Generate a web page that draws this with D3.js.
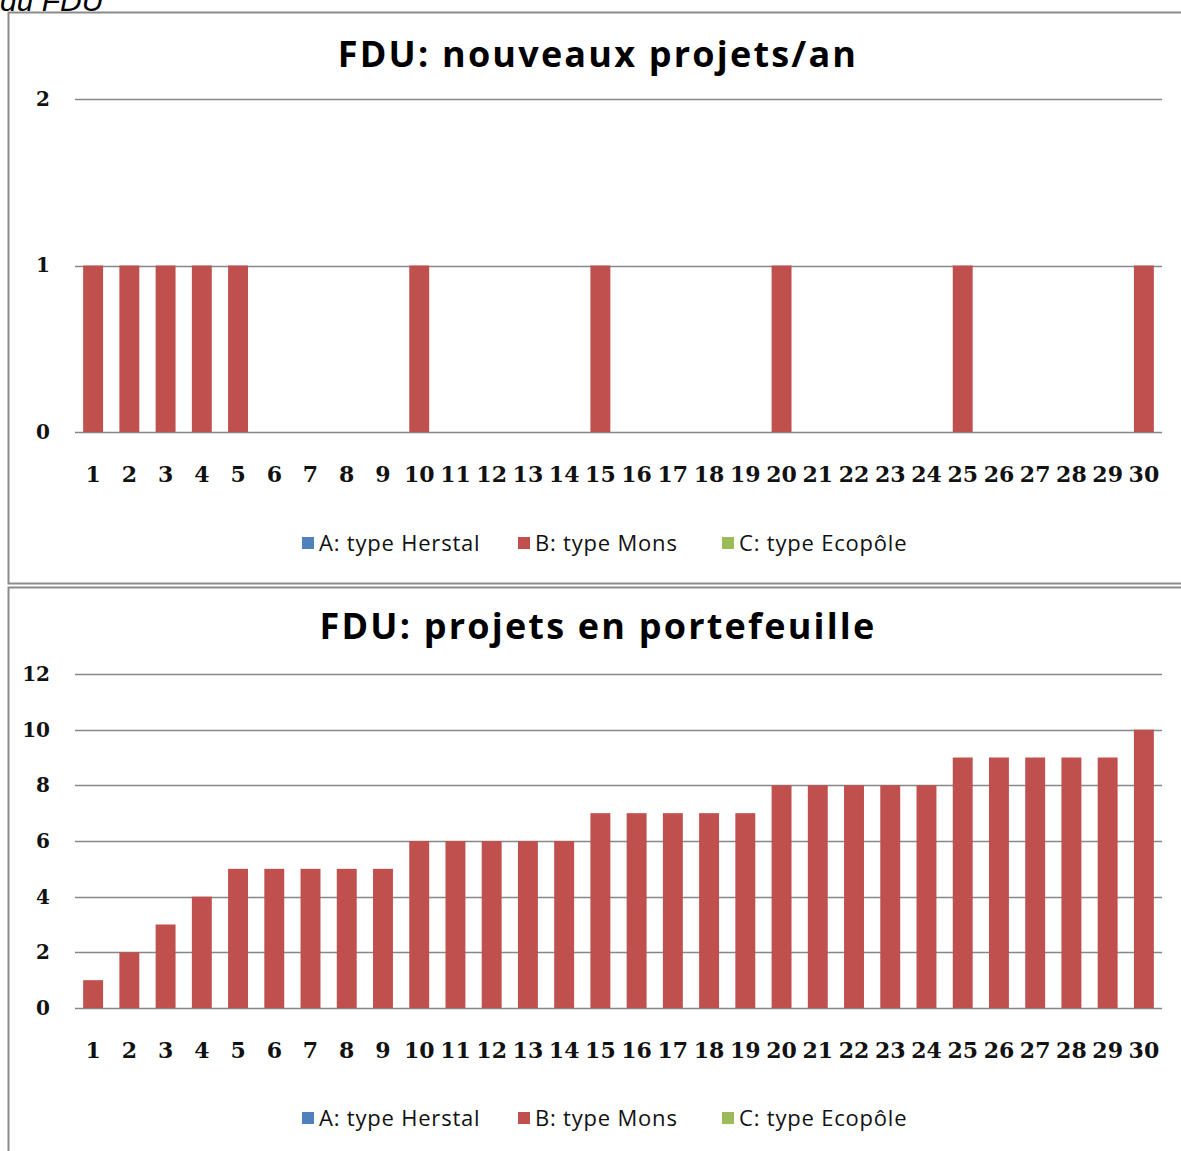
<!DOCTYPE html>
<html>
<head>
<meta charset="utf-8">
<script src="https://d3js.org/d3.v7.min.js"></script>
<style>
body { margin: 0; background: #fff; }
</style>
</head>
<body>
<svg id="canvas" width="1181" height="1151"></svg>
<script>
/********** Data **********/
var years = d3.range(1, 31);
var series = ["A: type Herstal", "B: type Mons", "C: type Ecopôle"];
var colors = ["#4F81BD", "#C0504D", "#9BBB59"];

// chart 1: new projects per year
var newA = [0,0,0,0,0,0,0,0,0,0,0,0,0,0,0,0,0,0,0,0,0,0,0,0,0,0,0,0,0,0];
var newB = [1,1,1,1,1,0,0,0,0,1,0,0,0,0,1,0,0,0,0,1,0,0,0,0,1,0,0,0,0,1];
var newC = [0,0,0,0,0,0,0,0,0,0,0,0,0,0,0,0,0,0,0,0,0,0,0,0,0,0,0,0,0,0];
var newTicks = [0, 1, 2];

// chart 2: projects in portfolio
var portA = [0,0,0,0,0,0,0,0,0,0,0,0,0,0,0,0,0,0,0,0,0,0,0,0,0,0,0,0,0,0];
var portB = [1,2,3,4,5,5,5,5,5,6,6,6,6,6,7,7,7,7,7,8,8,8,8,8,9,9,9,9,9,10];
var portC = [0,0,0,0,0,0,0,0,0,0,0,0,0,0,0,0,0,0,0,0,0,0,0,0,0,0,0,0,0,0];
var portTicks = [0, 2, 4, 6, 8, 10, 12];

/********** Setup **********/
var svg = d3.select("#canvas");

// caption of the page, cut off at the top as in the source
svg.append("text")
    .attr("x", 0)
    .attr("y", 11)
    .attr("font-family", "Liberation Sans, Arial, sans-serif")
    .attr("font-style", "italic")
    .attr("font-size", 30)
    .attr("fill", "#000")
    .text("du FDU");

function drawChart(box, title, values, ticks)
{
    var g = svg.append("g");

    g.append("rect")
        .attr("x", box.x + 0.5)
        .attr("y", box.y + 0.5)
        .attr("width", box.w)
        .attr("height", box.h)
        .attr("fill", "#fff")
        .attr("stroke", "#8c8c8c")
        .attr("stroke-width", 2);

    g.append("text")
        .attr("x", 598)
        .attr("y", box.y + box.titleY)
        .attr("text-anchor", "middle")
        .attr("font-family", "Open Sans, sans-serif")
        .attr("font-weight", "bold")
        .attr("font-size", 36)
        .attr("letter-spacing", 2.2)
        .attr("fill", "#000")
        .text(title);

    var x = d3.scaleBand()
        .domain(years)
        .range([75, 1162])
        .paddingInner(0.45)
        .paddingOuter(0.225);

    var y = d3.scaleLinear()
        .domain([0, d3.max(ticks)])
        .range([box.y + box.bottom, box.y + box.top]);

    // gridlines
    g.append("g")
        .selectAll("line")
        .data(ticks)
        .enter()
        .append("line")
        .attr("x1", 75)
        .attr("x2", 1162)
        .attr("y1", function(d) { return Math.round(y(d)) + 0.5; })
        .attr("y2", function(d) { return Math.round(y(d)) + 0.5; })
        .attr("stroke", "#878787")
        .attr("stroke-width", 1.5);

    // y labels
    var yAxis = d3.axisLeft(y).tickValues(ticks).tickSize(0).tickPadding(0).tickFormat(d3.format("d"));
    var ya = g.append("g")
        .attr("transform", "translate(50,0)")
        .call(yAxis);
    ya.select(".domain").remove();
    ya.selectAll("text")
        .attr("font-family", "DejaVu Serif, serif")
        .attr("font-weight", "bold")
        .attr("font-size", 20)
        .attr("fill", "#111");

    // x labels
    var xAxis = d3.axisBottom(x).tickSize(0).tickPadding(0);
    var xa = g.append("g")
        .attr("transform", "translate(0," + (box.y + box.bottom + 42) + ")")
        .call(xAxis);
    xa.select(".domain").remove();
    xa.selectAll("text")
        .attr("dy", "0.35em")
        .attr("font-family", "DejaVu Serif, serif")
        .attr("font-weight", "bold")
        .attr("font-size", 22)
        .attr("fill", "#111");

    // stacked bars
    var rows = years.map(function(yr, i) {
        var r = { year: yr };
        series.forEach(function(s, j) { r[s] = values[j][i]; });
        return r;
    });
    var stacked = d3.stack().keys(series)(rows);

    g.append("g")
        .selectAll("g")
        .data(stacked)
        .enter()
        .append("g")
        .attr("fill", function(d, i) { return colors[i]; })
        .selectAll("rect")
        .data(function(d) { return d; })
        .enter()
        .append("rect")
        .attr("x", function(d) { return x(d.data.year); })
        .attr("y", function(d) { return y(d[1]); })
        .attr("width", x.bandwidth())
        .attr("height", function(d) { return y(d[0]) - y(d[1]); });

    // legend
    var legX = [302, 518, 722];
    var leg = g.append("g")
        .selectAll("g")
        .data(series)
        .enter()
        .append("g")
        .attr("transform", function(d, i) { return "translate(" + legX[i] + "," + (box.y + box.legendY) + ")"; });
    leg.append("rect")
        .attr("x", 0)
        .attr("y", -6)
        .attr("width", 12)
        .attr("height", 12)
        .attr("fill", function(d, i) { return colors[i]; });
    leg.append("text")
        .attr("x", 17)
        .attr("y", 0)
        .attr("dy", "0.35em")
        .attr("font-family", "Open Sans, sans-serif")
        .attr("font-size", 22)
        .attr("letter-spacing", 0.8)
        .attr("fill", "#111")
        .text(function(d) { return d; });
}

drawChart({x: 8, y: 12, w: 1180, h: 571, titleY: 55, top: 87, bottom: 420, legendY: 531},
    "FDU: nouveaux projets/an", [newA, newB, newC], newTicks);

drawChart({x: 8, y: 587, w: 1180, h: 580, titleY: 52, top: 87, bottom: 421, legendY: 531},
    "FDU: projets en portefeuille", [portA, portB, portC], portTicks);
</script>
</body>
</html>
